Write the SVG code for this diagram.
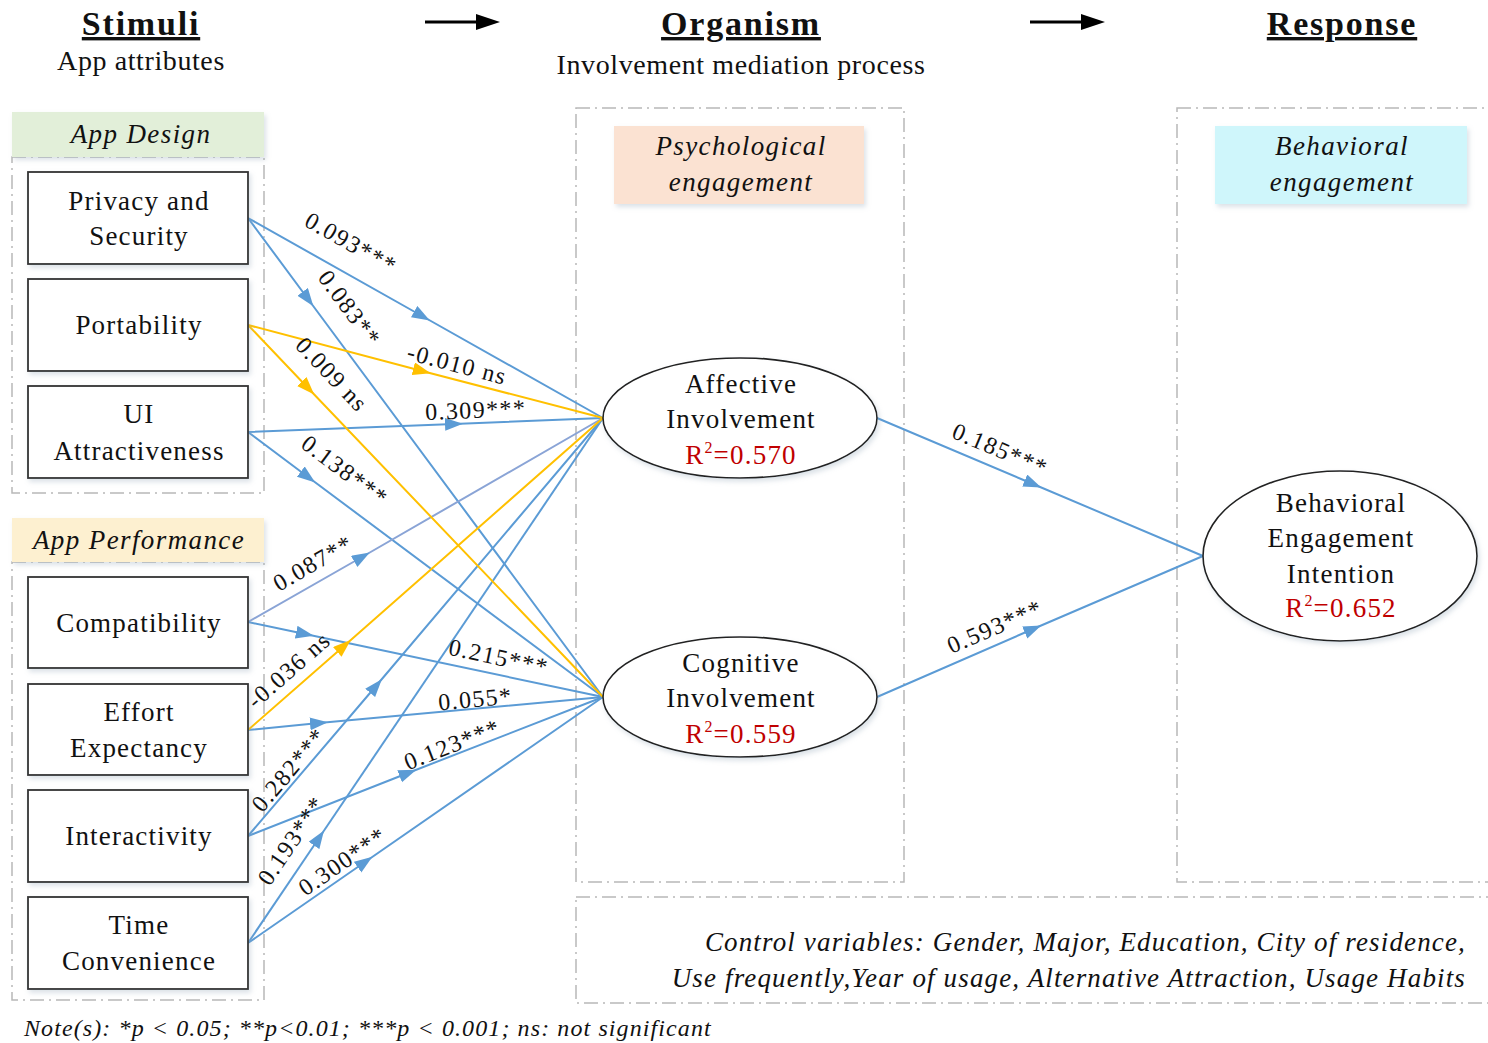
<svg xmlns="http://www.w3.org/2000/svg" width="1488" height="1043" viewBox="0 0 1488 1043">
  <style>
    text { font-family: "Liberation Serif", "Times New Roman", serif; fill: #111; }
    .title { font-size: 34px; font-weight: bold; text-decoration: underline; text-anchor: middle; letter-spacing: 1.8px; }
    .sub { font-size: 28px; text-anchor: middle; letter-spacing: 0.6px; }
    .hdr { font-size: 27px; font-style: italic; text-anchor: middle; letter-spacing: 1.4px; }
    .node { font-size: 27px; text-anchor: middle; letter-spacing: 1.2px; }
    .r2 { fill: #c00000; }
    .lbl { font-size: 24px; text-anchor: middle; letter-spacing: 1.4px; }
    .note { font-size: 24px; font-style: italic; letter-spacing: 1.1px; }
    .ctrl { font-size: 27px; font-style: italic; text-anchor: end; letter-spacing: 1.15px; }
    .dash { fill: none; stroke: #b8b8b8; stroke-width: 1.5; stroke-dasharray: 14 5 2 5; }
    .box { fill: #fff; stroke: #333; stroke-width: 1.8; }
    .ell { fill: #fff; stroke: #222; stroke-width: 1.6; }
    .blue { fill: none; stroke: #5b9bd5; stroke-width: 2; marker-mid: url(#ab); }
    .pale { fill: none; stroke: #8aa4d6; stroke-width: 2; marker-mid: url(#ab); }
    .yel { fill: none; stroke: #ffc000; stroke-width: 2; marker-mid: url(#ay); }
  </style>
  <defs>
    <marker id="ab" markerUnits="userSpaceOnUse" markerWidth="18" markerHeight="14" refX="9" refY="6.5" orient="auto">
      <path d="M0,0 L18,6.5 L0,13 z" fill="#5b9bd5"/>
    </marker>
    <marker id="ay" markerUnits="userSpaceOnUse" markerWidth="18" markerHeight="14" refX="9" refY="6.5" orient="auto">
      <path d="M0,0 L18,6.5 L0,13 z" fill="#ffc000"/>
    </marker>
    <marker id="ak" markerUnits="userSpaceOnUse" markerWidth="24" markerHeight="16" refX="2" refY="8" orient="auto">
      <path d="M0,0 L24,8 L0,16 z" fill="#000"/>
    </marker>
    <filter id="sh" x="-10%" y="-10%" width="120%" height="130%">
      <feDropShadow dx="2" dy="3" stdDeviation="2.5" flood-color="#9ab" flood-opacity="0.35"/>
    </filter>
  </defs>

  <rect width="1488" height="1043" fill="#fff"/>

  <!-- Column headings -->
  <g id="headings">
    <text class="title" x="141" y="35">Stimuli</text>
    <text class="sub" x="141" y="70">App attributes</text>
    <text class="title" x="741" y="35">Organism</text>
    <text class="sub" x="741" y="74">Involvement mediation process</text>
    <text class="title" x="1342" y="35">Response</text>
    <line x1="425" y1="22" x2="478" y2="22" stroke="#000" stroke-width="3" marker-end="url(#ak)"/>
    <line x1="1030" y1="22" x2="1083" y2="22" stroke="#000" stroke-width="3" marker-end="url(#ak)"/>
  </g>

  <!-- Dashed region frames -->
  <g id="frames">
    <rect class="dash" x="12" y="157" width="252" height="336"/>
    <rect class="dash" x="12" y="562" width="252" height="438"/>
    <rect class="dash" x="576" y="108" width="328" height="774"/>
    <rect class="dash" x="1177" y="108" width="320" height="774"/>
    <rect class="dash" x="576" y="897" width="920" height="106"/>
  </g>

  <!-- Section headers -->
  <g id="hdr-design">
    <rect x="12" y="112" width="252" height="45" fill="#e2efd9" filter="url(#sh)"/>
    <text class="hdr" x="141" y="143">App Design</text>
  </g>
  <g id="hdr-performance">
    <rect x="12" y="518" width="252" height="44" fill="#fdf0d0" filter="url(#sh)"/>
    <text class="hdr" x="139" y="549">App Performance</text>
  </g>
  <g id="hdr-psych">
    <rect x="614" y="126" width="250" height="78" fill="#fbe2d2" filter="url(#sh)"/>
    <text class="hdr" x="741" y="155">Psychological</text>
    <text class="hdr" x="741" y="191">engagement</text>
  </g>
  <g id="hdr-behav">
    <rect x="1215" y="126" width="252" height="78" fill="#cff6fb" filter="url(#sh)"/>
    <text class="hdr" x="1342" y="155">Behavioral</text>
    <text class="hdr" x="1342" y="191">engagement</text>
  </g>

  <!-- Connectors -->
  <g id="connectors">
    <path class="blue" d="M248,218 L422,316 L603,418"/>
    <path class="blue" d="M248,218 L308,299 L603,697"/>
    <path class="blue" d="M248,432 L454,424 L603,418"/>
    <path class="blue" d="M248,432 L308,477 L603,697"/>
    <path class="pale" d="M248,622 L362,557 L603,418"/>
    <path class="blue" d="M248,622 L305,634 L603,697"/>
    <path class="blue" d="M248,730 L319,723 L603,697"/>
    <path class="blue" d="M248,836 L376,686 L603,418"/>
    <path class="blue" d="M248,836 L408,773 L603,697"/>
    <path class="blue" d="M248,943 L319,838 L603,418"/>
    <path class="blue" d="M248,943 L365,862 L603,697"/>
    <path class="yel" d="M248,325 L422,371 L603,418"/>
    <path class="yel" d="M248,325 L308,388 L603,697"/>
    <path class="yel" d="M248,730 L344,646 L603,418"/>
    <path class="blue" d="M877,418 L1033,484 L1203,556"/>
    <path class="blue" d="M877,697 L1033,629 L1203,556"/>

    <text class="lbl" transform="translate(347,250) rotate(29.4)">0.093***</text>
    <text class="lbl" transform="translate(343,313) rotate(53.5)">0.083**</text>
    <text class="lbl" transform="translate(455,372) rotate(14.7)">-0.010 ns</text>
    <text class="lbl" transform="translate(326,380) rotate(46.3)">0.009 ns</text>
    <text class="lbl" transform="translate(476,418) rotate(-2.3)">0.309***</text>
    <text class="lbl" transform="translate(340,477) rotate(36.7)">0.138***</text>
    <text class="lbl" transform="translate(317,570) rotate(-29.9)">0.087**</text>
    <text class="lbl" transform="translate(497,665) rotate(11.9)">0.215***</text>
    <text class="lbl" transform="translate(294,676) rotate(-41.3)">-0.036 ns</text>
    <text class="lbl" transform="translate(476,707) rotate(-5.3)">0.055*</text>
    <text class="lbl" transform="translate(295,775) rotate(-49.7)">0.282***</text>
    <text class="lbl" transform="translate(455,752) rotate(-21.4)">0.123***</text>
    <text class="lbl" transform="translate(298,845) rotate(-55.9)">0.193***</text>
    <text class="lbl" transform="translate(347,868) rotate(-34.7)">0.300***</text>
    <text class="lbl" transform="translate(997,457) rotate(22.9)">0.185***</text>
    <text class="lbl" transform="translate(998,634) rotate(-23.4)">0.593***</text>
  </g>

  <!-- Stimulus nodes -->
  <g id="privacy">
    <rect class="box" x="28" y="172" width="220" height="92" filter="url(#sh)"/>
    <text class="node" x="139" y="210">Privacy and</text>
    <text class="node" x="139" y="245">Security</text>
  </g>
  <g id="portability">
    <rect class="box" x="28" y="279" width="220" height="92" filter="url(#sh)"/>
    <text class="node" x="139" y="334">Portability</text>
  </g>
  <g id="ui">
    <rect class="box" x="28" y="386" width="220" height="92" filter="url(#sh)"/>
    <text class="node" x="139" y="423">UI</text>
    <text class="node" x="139" y="460">Attractiveness</text>
  </g>
  <g id="compatibility">
    <rect class="box" x="28" y="577" width="220" height="91" filter="url(#sh)"/>
    <text class="node" x="139" y="632">Compatibility</text>
  </g>
  <g id="effort">
    <rect class="box" x="28" y="684" width="220" height="91" filter="url(#sh)"/>
    <text class="node" x="139" y="721">Effort</text>
    <text class="node" x="139" y="757">Expectancy</text>
  </g>
  <g id="interactivity">
    <rect class="box" x="28" y="790" width="220" height="92" filter="url(#sh)"/>
    <text class="node" x="139" y="845">Interactivity</text>
  </g>
  <g id="time">
    <rect class="box" x="28" y="897" width="220" height="92" filter="url(#sh)"/>
    <text class="node" x="139" y="934">Time</text>
    <text class="node" x="139" y="970">Convenience</text>
  </g>

  <!-- Organism and response nodes -->
  <g id="affective">
    <ellipse class="ell" cx="740" cy="418" rx="137" ry="60" filter="url(#sh)"/>
    <text class="node" x="741" y="393">Affective</text>
    <text class="node" x="741" y="428">Involvement</text>
    <text class="node r2" x="741" y="464">R<tspan font-size="16" dy="-11">2</tspan><tspan dy="11">=0.570</tspan></text>
  </g>
  <g id="cognitive">
    <ellipse class="ell" cx="740" cy="697" rx="137" ry="60" filter="url(#sh)"/>
    <text class="node" x="741" y="672">Cognitive</text>
    <text class="node" x="741" y="707">Involvement</text>
    <text class="node r2" x="741" y="743">R<tspan font-size="16" dy="-11">2</tspan><tspan dy="11">=0.559</tspan></text>
  </g>
  <g id="intention">
    <ellipse class="ell" cx="1340" cy="556" rx="137" ry="85" filter="url(#sh)"/>
    <text class="node" x="1341" y="512">Behavioral</text>
    <text class="node" x="1341" y="547">Engagement</text>
    <text class="node" x="1341" y="583">Intention</text>
    <text class="node r2" x="1341" y="617">R<tspan font-size="16" dy="-11">2</tspan><tspan dy="11">=0.652</tspan></text>
  </g>

  <!-- Controls and footnote -->
  <g id="controls">
    <text class="ctrl" x="1466" y="951">Control variables: Gender, Major, Education, City of residence,</text>
    <text class="ctrl" x="1466" y="987">Use frequently,Year of usage, Alternative Attraction, Usage Habits</text>
  </g>
  <text class="note" x="24" y="1036">Note(s): *p &lt; 0.05; **p&lt;0.01; ***p &lt; 0.001; ns: not significant</text>
</svg>
